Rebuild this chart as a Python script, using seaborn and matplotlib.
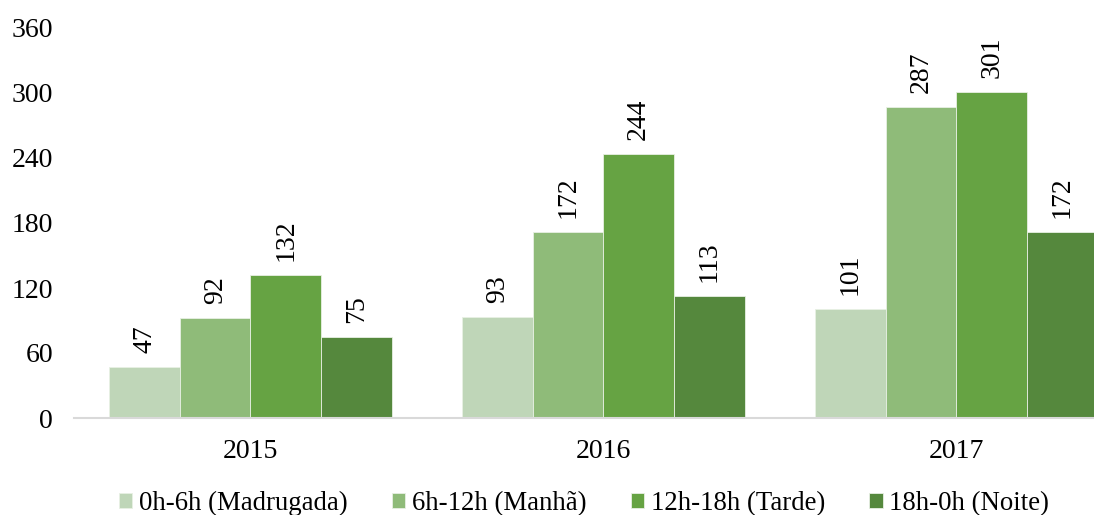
import pandas as pd
import numpy as np
import matplotlib
matplotlib.use("Agg")
import matplotlib.pyplot as plt
import seaborn as sns

years = ["2015", "2016", "2017"]
periods = ["0h-6h (Madrugada)", "6h-12h (Manhã)", "12h-18h (Tarde)", "18h-0h (Noite)"]
madrugada = [47, 93, 101]
manha = [92, 172, 287]
tarde = [132, 244, 301]
noite = [75, 113, 172]
colors = ["#bfd6b8", "#8fbb79", "#66a343", "#55883d"]

rows = []
for p, vals in zip(periods, [madrugada, manha, tarde, noite]):
    for y, v in zip(years, vals):
        rows.append({"ano": y, "periodo": p, "valor": v})
df = pd.DataFrame(rows)

sns.set_style("white")
plt.rcParams["font.family"] = ["Liberation Serif", "DejaVu Serif"]
plt.rcParams["text.color"] = "black"
plt.rcParams["xtick.color"] = "black"
plt.rcParams["ytick.color"] = "black"

fig = plt.figure(figsize=(10.94, 5.15), dpi=100)
ax = fig.add_axes([74 / 1094, 97 / 515, 1020 / 1094, 390 / 515])

sns.barplot(data=df, x="ano", y="valor", hue="periodo", hue_order=periods,
            palette=colors, width=0.8, edgecolor="#e8f0e4", linewidth=0.6,
            saturation=1, ax=ax)

for c in ax.containers:
    ax.bar_label(c, labels=[f"{int(v)}" for v in c.datavalues], rotation=90,
                 padding=10, fontsize=20, color="black")

ax.set_xlim(-0.5, 2.39)
ax.set_ylim(0, 360)
ax.set_yticks(np.arange(0, 361, 60))
ax.set_xlabel("")
ax.set_ylabel("")
ax.tick_params(axis="both", labelsize=20, length=0)
ax.tick_params(axis="y", pad=15)
ax.tick_params(axis="x", pad=15)
for s in ["top", "right", "left"]:
    ax.spines[s].set_visible(False)
ax.spines["bottom"].set_color("#d9d9d9")
ax.spines["bottom"].set_linewidth(1.5)

handles, labels = ax.get_legend_handles_labels()
ax.legend(handles, labels, loc="lower center", bbox_to_anchor=(0.5, -0.285),
          ncol=4, frameon=False, fontsize=19.3, handlelength=0.5, handleheight=0.5,
          handletextpad=0.25, columnspacing=1.65, borderpad=0)

fig.savefig("out.png", dpi=100)
